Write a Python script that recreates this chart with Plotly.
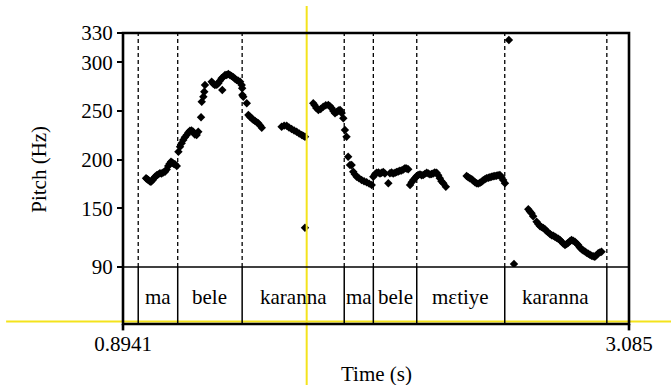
import plotly.graph_objects as go

# ---- pitch track (time in s, F0 in Hz), one list pair per voiced stretch ----
t_ma1 = [0.994, 0.999, 1.004, 1.010, 1.015, 1.022, 1.028, 1.033, 1.040, 1.047, 1.054,
         1.061, 1.068, 1.076, 1.083, 1.090, 1.096, 1.102, 1.108, 1.113, 1.119, 1.127]
f_ma1 = [181.0, 180.0, 179.2, 178.0, 177.5, 179.0, 181.0, 182.6, 184.0, 185.0, 186.1,
         186.0, 187.0, 187.7, 190.0, 193.6, 196.0, 198.0, 197.0, 196.0, 195.3, 193.6]

t_bele1 = [1.134, 1.141, 1.148, 1.155, 1.162, 1.170, 1.177, 1.184, 1.191, 1.198, 1.205,
           1.213, 1.220, 1.232, 1.235, 1.242, 1.246, 1.249]
f_bele1 = [208.3, 213.4, 217.0, 220.3, 223.0, 225.4, 228.0, 229.8, 230.0, 228.8, 226.0,
           225.4, 228.8, 243.5, 259.5, 264.7, 269.8, 276.7]

t_peak = [1.278, 1.285, 1.292, 1.300, 1.307, 1.314, 1.321, 1.324, 1.329, 1.336, 1.343,
          1.350, 1.357, 1.364, 1.372, 1.379, 1.386, 1.393, 1.401]
f_peak = [280.1, 278.0, 276.7, 277.0, 278.4, 281.0, 283.5, 271.5, 285.0, 286.9, 287.0,
          288.0, 286.9, 286.0, 284.6, 283.0, 281.8, 281.0, 280.1]

t_kar1 = [1.408, 1.410, 1.411, 1.415, 1.430, 1.437, 1.444, 1.451, 1.458, 1.466, 1.473,
          1.480, 1.488, 1.495]
f_kar1 = [276.7, 273.3, 266.4, 264.7, 257.9, 245.9, 244.0, 242.5, 241.0, 239.7, 238.5,
          237.4, 235.0, 232.9]

t_kar1b = [1.581, 1.592, 1.603, 1.613, 1.624, 1.635, 1.646, 1.657, 1.668, 1.675, 1.682, 1.682]
f_kar1b = [233.9, 235.0, 234.9, 233.0, 231.5, 230.0, 228.8, 227.0, 225.4, 224.5, 223.6, 130.3]

t_ma2 = [1.718, 1.724, 1.731, 1.740, 1.750, 1.761, 1.772, 1.783, 1.790, 1.798, 1.805,
         1.812, 1.820, 1.827, 1.834, 1.841, 1.848, 1.855, 1.862, 1.869, 1.877, 1.884,
         1.891, 1.898, 1.906, 1.916, 1.927, 1.938, 1.949, 1.960, 1.971]
f_ma2 = [257.9, 256.0, 253.0, 251.0, 252.0, 254.4, 256.0, 256.2, 255.0, 252.8, 250.0,
         247.6, 249.0, 250.5, 251.0, 248.0, 242.5, 230.5, 223.6, 203.1, 194.6, 194.6,
         187.7, 185.0, 182.6, 181.0, 179.2, 178.0, 176.9, 175.5, 174.1]

t_bele2 = [1.978, 1.985, 1.992, 2.000, 2.007, 2.014, 2.021, 2.028, 2.043, 2.050, 2.057,
           2.064, 2.072, 2.079, 2.086, 2.093, 2.100, 2.108, 2.115, 2.122, 2.129]
f_bele2 = [182.6, 185.0, 186.7, 187.0, 186.0, 186.7, 187.5, 186.0, 175.9, 186.1, 187.0,
           186.0, 186.7, 187.5, 188.0, 188.8, 189.0, 190.0, 191.2, 191.0, 190.2]

t_met = [2.137, 2.144, 2.151, 2.158, 2.165, 2.172, 2.180, 2.187, 2.194, 2.201, 2.209,
         2.216, 2.223, 2.230, 2.237, 2.244, 2.252, 2.259, 2.266, 2.273, 2.281, 2.292]
f_met = [174.1, 177.0, 179.2, 181.0, 183.0, 184.4, 185.0, 184.0, 184.4, 185.5, 186.7,
         186.0, 185.0, 185.4, 186.0, 187.0, 186.7, 184.0, 181.0, 178.0, 175.9, 172.4]

t_met2 = [2.382, 2.389, 2.396, 2.404, 2.411, 2.418, 2.425, 2.432, 2.440, 2.447, 2.454,
          2.461, 2.468, 2.476, 2.483, 2.490, 2.497, 2.504, 2.511, 2.518, 2.526, 2.533,
          2.540, 2.548, 2.565, 2.587]
f_met2 = [183.3, 182.0, 181.0, 180.0, 178.5, 177.0, 175.9, 175.5, 176.5, 177.5, 179.0,
          180.0, 181.0, 181.5, 182.0, 182.5, 183.0, 183.3, 183.5, 184.0, 184.4, 182.0,
          179.2, 175.9, 322.8, 93.1]

t_kar2 = [2.649, 2.656, 2.663, 2.670, 2.685, 2.692, 2.699, 2.706, 2.714, 2.721, 2.728,
          2.735, 2.743, 2.750, 2.757, 2.764, 2.771, 2.779, 2.786, 2.793, 2.800, 2.808,
          2.815, 2.822, 2.829, 2.836, 2.843, 2.851, 2.858, 2.865, 2.872, 2.880, 2.887,
          2.894, 2.901, 2.909, 2.916, 2.923, 2.930, 2.937, 2.944, 2.952, 2.959, 2.966]
f_kar2 = [149.2, 147.0, 145.1, 142.0, 136.5, 134.0, 132.1, 131.0, 130.0, 128.7, 127.0,
          125.5, 123.9, 122.5, 122.0, 121.1, 120.0, 119.0, 117.7, 116.0, 114.0, 112.6,
          113.5, 114.9, 116.5, 117.7, 117.0, 116.0, 114.0, 112.6, 110.0, 108.2, 107.0,
          106.0, 104.7, 103.5, 102.5, 101.6, 101.0, 100.6, 102.0, 104.1, 105.0, 105.7]

# ---- text tier ----
t_start, t_end = 0.8941, 3.085
boundaries = [0.960, 1.131, 1.410, 1.852, 1.978, 2.166, 2.547, 2.989]
words = ["ma", "bele", "karanna", "ma", "bele", "mɛtiye", "karanna"]

# ---- axes ----
y_ticks = [90, 150, 200, 250, 300, 330]
x_ticks = [t_start, t_end]
x_tick_text = ["0.8941", "3.085"]

FONT = "Liberation Serif"
tier_top = 0.1959  # paper fraction where the pitch panel starts

segments = [(t_ma1, f_ma1), (t_bele1, f_bele1), (t_peak, f_peak), (t_kar1, f_kar1),
            (t_kar1b, f_kar1b), (t_ma2, f_ma2), (t_bele2, f_bele2), (t_met, f_met),
            (t_met2, f_met2), (t_kar2, f_kar2)]
xs, ys = [], []
for ts, fs in segments:
    xs += ts
    ys += fs

fig = go.Figure()
fig.add_trace(go.Scatter(
    x=xs, y=ys, mode="markers",
    marker=dict(symbol="diamond", size=6.5, color="black", line=dict(width=0)),
    showlegend=False, hoverinfo="skip"))

shapes = []
# yellow guide lines behind the drawing
shapes.append(dict(type="line", xref="paper", yref="paper", x0=0.363, x1=0.363,
                   y0=1.093, y1=-0.21, line=dict(color="#f4e31c", width=2)))
shapes.append(dict(type="line", xref="paper", yref="paper", x0=-0.231, x1=1.09,
                   y0=0.009, y1=0.009, line=dict(color="#f4e31c", width=2)))
# boundary lines: dashed in pitch panel, solid in tier
for b in boundaries:
    shapes.append(dict(type="line", xref="x", yref="paper", x0=b, x1=b,
                       y0=tier_top, y1=1, line=dict(color="black", width=1.3, dash="4px,3px")))
    shapes.append(dict(type="line", xref="x", yref="paper", x0=b, x1=b,
                       y0=0, y1=tier_top, line=dict(color="black", width=1.5)))
# separator between pitch panel and tier
shapes.append(dict(type="line", xref="paper", yref="paper", x0=0, x1=1,
                   y0=tier_top, y1=tier_top, line=dict(color="black", width=1.3)))
# frame, with its corners extended downward as the time-axis ticks
shapes.append(dict(type="rect", xref="paper", yref="paper", x0=0, x1=1, y0=0, y1=1,
                   line=dict(color="black", width=2.6)))
for xp in (0, 1):
    shapes.append(dict(type="line", xref="paper", yref="paper", x0=xp, x1=xp,
                       y0=0, y1=-0.022, line=dict(color="black", width=2.6)))

annotations = []
for i, w in enumerate(words):
    annotations.append(dict(x=(boundaries[i] + boundaries[i + 1]) / 2, xref="x",
                            y=0.093, yref="paper", text=w, showarrow=False,
                            font=dict(family=FONT, size=21, color="black"),
                            xanchor="center", yanchor="middle"))
annotations.append(dict(x=-0.166, xref="paper", y=0.53, yref="paper", text="Pitch (Hz)",
                        textangle=-90, showarrow=False,
                        font=dict(family=FONT, size=21, color="black"),
                        xanchor="center", yanchor="middle"))
annotations.append(dict(x=0.5, xref="paper", y=-0.172, yref="paper", text="Time (s)",
                        showarrow=False, font=dict(family=FONT, size=21, color="black"),
                        xanchor="center", yanchor="middle"))

fig.update_layout(
    width=671, height=385,
    margin=dict(l=123, r=42, t=33, b=61, pad=0),
    paper_bgcolor="white", plot_bgcolor="white",
    shapes=shapes, annotations=annotations,
    xaxis=dict(range=[t_start, t_end], anchor="free", position=0,
               tickvals=x_ticks, ticktext=x_tick_text, ticks="outside",
               ticklen=1, tickwidth=0.1, tickcolor="white",
               showgrid=False, zeroline=False, showline=False,
               tickfont=dict(family=FONT, size=21, color="black")),
    yaxis=dict(range=[90, 330], domain=[tier_top, 1],
               tickvals=y_ticks, ticks="outside", ticklen=5, tickwidth=1.5,
               tickcolor="black", showgrid=False, zeroline=False, showline=False,
               tickfont=dict(family=FONT, size=21, color="black")),
)

fig.write_html("out.html")
